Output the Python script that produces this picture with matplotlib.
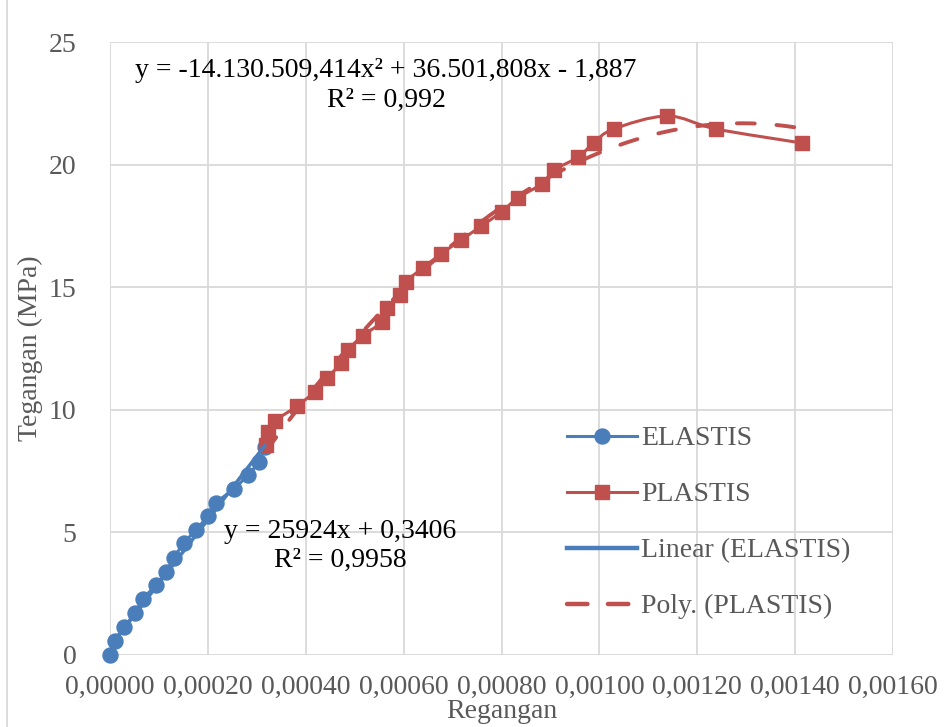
import numpy as np
import matplotlib
matplotlib.use("Agg")
import matplotlib.pyplot as plt
from matplotlib.path import Path
from matplotlib.patches import PathPatch
from matplotlib.lines import Line2D
from matplotlib.ticker import FuncFormatter

# Elastic stage (strain, stress in MPa)
elastis_x = [0.0, 0.0000102, 0.0000286, 0.0000510, 0.0000673, 0.0000939, 0.0001143,
             0.0001306, 0.0001510, 0.0001755, 0.0002000, 0.0002163, 0.0002530,
             0.0002816, 0.0003040, 0.0003163]
elastis_y = [0.00, 0.57, 1.14, 1.71, 2.28, 2.86, 3.39, 3.96, 4.57, 5.10, 5.67, 6.20,
             6.77, 7.34, 7.87, 8.48]

# Plastic stage (strain, stress in MPa)
plastis_x = [0.000318, 0.000322, 0.000337, 0.000382, 0.000418, 0.000443, 0.000473,
             0.000486, 0.000516, 0.000555, 0.000567, 0.000592, 0.000604, 0.000639,
             0.000676, 0.000718, 0.000759, 0.000800, 0.000833, 0.000882, 0.000908,
             0.000957, 0.000988, 0.001029, 0.001139, 0.001239, 0.001414]
plastis_y = [8.56, 9.09, 9.54, 10.15, 10.73, 11.30, 11.91, 12.44, 13.01, 13.58, 14.15,
             14.68, 15.21, 15.78, 16.35, 16.93, 17.50, 18.07, 18.64, 19.21, 19.78,
             20.31, 20.88, 21.45, 21.98, 21.45, 20.88]

# Trendline coefficients
lin_a, lin_b = 25924.0, 0.3406
poly_a, poly_b, poly_c = -14130509.414, 36501.808, -1.887

x_ticks = [0.0, 0.0002, 0.0004, 0.0006, 0.0008, 0.0010, 0.0012, 0.0014, 0.0016]
y_ticks = [0, 5, 10, 15, 20, 25]

BLUE = "#4A7EBB"
RED = "#C0504D"
GRID = "#D9D9D9"
TXT = "#595959"
FONT = "Liberation Serif"
FS = 20

plt.rcParams["font.family"] = [FONT, "DejaVu Serif"]


def smooth_path(xs, ys):
    """Catmull-Rom style cubic Bezier path through the points."""
    pts = np.column_stack([xs, ys])
    n = len(pts)
    verts = [pts[0]]
    codes = [Path.MOVETO]
    for i in range(n - 1):
        p0 = pts[i - 1] if i > 0 else pts[i]
        p1 = pts[i]
        p2 = pts[i + 1]
        p3 = pts[i + 2] if i + 2 < n else pts[i + 1]
        c1 = p1 + (p2 - p0) / 6.0
        c2 = p2 - (p3 - p1) / 6.0
        verts += [c1, c2, p2]
        codes += [Path.CURVE4] * 3
    return Path(verts, codes)


fig = plt.figure(figsize=(9.44, 7.27), dpi=100)
ax = fig.add_axes([110 / 944, 1 - 655 / 727, 783 / 944, 613 / 727])

ax.set_xlim(0, 0.0016)
ax.set_ylim(0, 25)
ax.set_xticks(x_ticks)
ax.set_yticks(y_ticks)
ax.xaxis.set_major_formatter(FuncFormatter(lambda v, p: f"{v:.5f}".replace(".", ",")))
ax.yaxis.set_major_formatter(FuncFormatter(lambda v, p: f"{v:.0f}"))
ax.grid(True, color=GRID, linewidth=1.3)
ax.set_axisbelow(True)
for s in ax.spines.values():
    s.set_visible(False)
ax.tick_params(length=0, labelsize=FS, labelcolor=TXT, pad=14)
ax.tick_params(axis="y", pad=24)

# Series lines (smoothed) and markers
ax.add_patch(PathPatch(smooth_path(elastis_x, elastis_y), fill=False,
                       edgecolor=BLUE, linewidth=2.2, zorder=3))
ax.plot(elastis_x, elastis_y, linestyle="none", marker="o", markersize=10.8,
        color=BLUE, zorder=4, clip_on=False)
ax.add_patch(PathPatch(smooth_path(plastis_x, plastis_y), fill=False,
                       edgecolor=RED, linewidth=2.2, zorder=3))
ax.plot(plastis_x, plastis_y, linestyle="none", marker="s", markersize=9.5,
        color=RED, zorder=4, clip_on=False)

# Trendlines
xl = np.linspace(min(elastis_x), max(elastis_x), 50)
ax.plot(xl, lin_a * xl + lin_b, color=BLUE, linewidth=2.6, zorder=5)
xp = np.linspace(min(plastis_x), max(plastis_x), 300)
ax.plot(xp, poly_a * xp ** 2 + poly_b * xp + poly_c, color=RED, linewidth=2.8,
        dashes=(4.6, 5.6), dash_capstyle="round", zorder=5)

# Trendline equations
ax.text(0.3525, 0.954, "y = -14.130.509,414x² + 36.501,808x - 1,887",
        transform=ax.transAxes, ha="center", va="center", fontsize=FS, color="black")
ax.text(0.3535, 0.905, "R² = 0,992", transform=ax.transAxes, ha="center",
        va="center", fontsize=FS, color="black")
ax.text(0.2937, 0.2007, "y = 25924x + 0,3406", transform=ax.transAxes, ha="center",
        va="center", fontsize=FS, color="black")
ax.text(0.2937, 0.155, "R² = 0,9958", transform=ax.transAxes, ha="center",
        va="center", fontsize=FS, color="black")

ax.set_xlabel("Regangan", fontsize=FS, color=TXT, labelpad=0)
ax.set_ylabel("Tegangan (MPa)", fontsize=FS, color=TXT, labelpad=4)

handles = [
    Line2D([], [], color=BLUE, linewidth=2.2, marker="o", markersize=10.8),
    Line2D([], [], color=RED, linewidth=2.2, marker="s", markersize=9.5),
    Line2D([], [], color=BLUE, linewidth=3.2),
    Line2D([], [], color=RED, linewidth=3.2, dashes=(4.6, 4.6), dash_capstyle="round"),
]
labels = ["ELASTIS", "PLASTIS", "Linear (ELASTIS)", "Poly. (PLASTIS)"]
leg = ax.legend(handles, labels, loc="upper left", bbox_to_anchor=(0.57, 0.392),
                frameon=False, fontsize=FS, handlelength=2.5, handletextpad=0.15,
                labelspacing=1.1, borderaxespad=0)
for t in leg.get_texts():
    t.set_color(TXT)

# Chart frame edge
fig.add_artist(Line2D([7 / 944, 7 / 944], [0, 1], transform=fig.transFigure,
                      color=GRID, linewidth=1.3))

fig.savefig("out.png", dpi=100)
